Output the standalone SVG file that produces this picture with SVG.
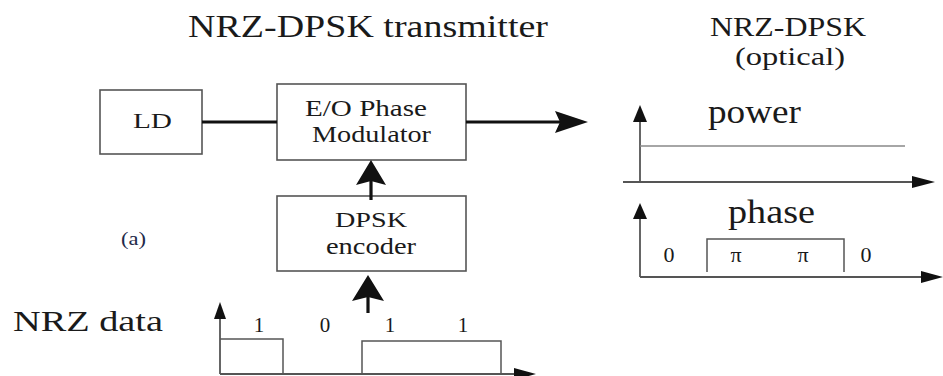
<svg xmlns="http://www.w3.org/2000/svg" width="943" height="376" viewBox="0 0 943 376">
<style>
.t{font-family:"Liberation Serif","Times New Roman",serif;fill:#1a1a1a}
.box{fill:#fff;stroke:#555;stroke-width:1.6}
.thick{stroke:#111;stroke-width:3.2;fill:none}
.head{fill:#111;stroke:none}
.ax{stroke:#555;stroke-width:1.8;fill:none}
.sig{stroke:#555;stroke-width:1.5;fill:none}
.ahead{fill:#111}
</style>
<rect width="943" height="376" fill="#fff"/>
<text class="t" x="188" y="37" font-size="31" textLength="360" lengthAdjust="spacingAndGlyphs">NRZ-DPSK transmitter</text>
<text class="t" x="710" y="36" font-size="27" textLength="156" lengthAdjust="spacingAndGlyphs">NRZ-DPSK</text>
<text class="t" x="735" y="65" font-size="26" textLength="110" lengthAdjust="spacingAndGlyphs">(optical)</text>
<text x="121" y="245" font-size="18" font-family="Liberation Serif,serif" fill="#1f2a4a" textLength="25" lengthAdjust="spacingAndGlyphs">(a)</text>

<g id="ld">
<rect class="box" x="100" y="90" width="102" height="64"/>
<text class="t" x="133" y="128" font-size="21" textLength="39" lengthAdjust="spacingAndGlyphs">LD</text>
</g>
<g id="modulator">
<rect class="box" x="277" y="84" width="189" height="76"/>
<text class="t" x="305" y="116" font-size="24" textLength="122" lengthAdjust="spacingAndGlyphs">E/O Phase</text>
<text class="t" x="312" y="142" font-size="24" textLength="119" lengthAdjust="spacingAndGlyphs">Modulator</text>
</g>
<g id="encoder">
<rect class="box" x="277" y="196" width="189" height="75"/>
<text class="t" x="335" y="227" font-size="22" textLength="72" lengthAdjust="spacingAndGlyphs">DPSK</text>
<text class="t" x="326" y="254" font-size="24" textLength="90" lengthAdjust="spacingAndGlyphs">encoder</text>
</g>

<g id="connectors">
<line class="thick" x1="202" y1="122" x2="277" y2="122"/>
<line class="thick" x1="466" y1="122" x2="560" y2="122"/>
<polygon class="head" points="555,111 588,122 555,133 560,122"/>
<line class="thick" x1="371" y1="200" x2="371" y2="180" stroke-width="4"/>
<polygon class="head" points="356,185 371,160 386,185 371,181"/>
<line class="thick" x1="368" y1="313" x2="368" y2="295" stroke-width="4"/>
<polygon class="head" points="352,301 368,275 384,301 368,297"/>
</g>

<g id="nrz-data">
<text class="t" x="13" y="331" font-size="30" textLength="150" lengthAdjust="spacingAndGlyphs">NRZ data</text>
<line class="ax" x1="220" y1="374" x2="220" y2="314"/>
<polygon class="ahead" points="214,319 220,302 226,319"/>
<line class="ax" x1="220" y1="374" x2="520" y2="374"/>
<polygon class="ahead" points="514,368 536,374 514,380"/>
<polyline class="sig" points="220,339 283,339 283,374"/>
<polyline class="sig" points="362,374 362,341 501,341 501,374"/>
<text class="t" x="259" y="332" font-size="21" text-anchor="middle">1</text>
<text class="t" x="325" y="332" font-size="21" text-anchor="middle">0</text>
<text class="t" x="390" y="332" font-size="21" text-anchor="middle">1</text>
<text class="t" x="463" y="332" font-size="21" text-anchor="middle">1</text>
</g>

<g id="power">
<text class="t" x="708" y="123" font-size="34" textLength="93" lengthAdjust="spacingAndGlyphs">power</text>
<line class="ax" x1="640" y1="182" x2="640" y2="118"/>
<polygon class="ahead" points="633,122 640,105 647,122"/>
<line class="ax" x1="623" y1="182" x2="916" y2="182"/>
<polygon class="ahead" points="912,176 935,182 912,188"/>
<line x1="640" y1="146" x2="905" y2="146" stroke="#888" stroke-width="1.5"/>
</g>

<g id="phase">
<text class="t" x="728" y="223" font-size="34" textLength="87" lengthAdjust="spacingAndGlyphs">phase</text>
<line class="ax" x1="640" y1="277" x2="640" y2="214"/>
<polygon class="ahead" points="633,219 640,203 647,219"/>
<line class="ax" x1="640" y1="277" x2="925" y2="277"/>
<polygon class="ahead" points="921,271 943,277 921,283"/>
<polyline class="sig" points="707,272 707,239 844,239 844,272"/>
<text class="t" x="669" y="262" font-size="22" text-anchor="middle">0</text>
<text class="t" x="736" y="262" font-size="22" text-anchor="middle">π</text>
<text class="t" x="803" y="262" font-size="22" text-anchor="middle">π</text>
<text class="t" x="866" y="262" font-size="22" text-anchor="middle">0</text>
</g>
</svg>
